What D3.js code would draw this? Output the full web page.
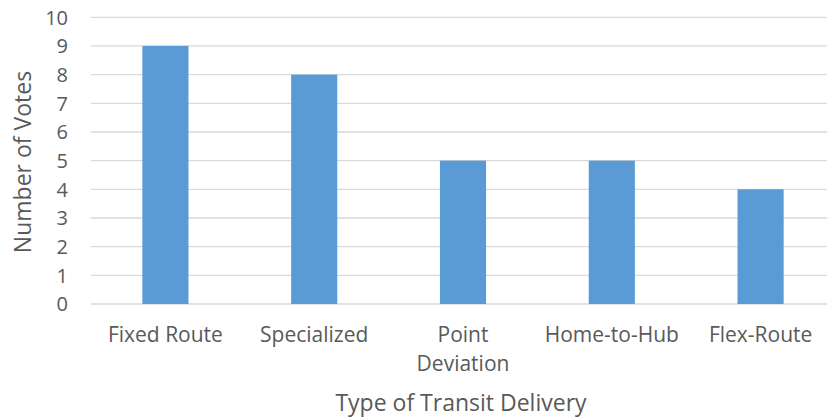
<!DOCTYPE html>
<html>
<head>
<meta charset="utf-8">
<script src="https://cdn.jsdelivr.net/npm/d3@7"></script>
<style>
  body { margin: 0; background: #fff; }
  text { font-family: "Open Sans", sans-serif; fill: #595959; }
</style>
</head>
<body>
<div id="chart"></div>
<script>
// 数据
const categories = ["Fixed Route", "Specialized", "Point Deviation", "Home-to-Hub", "Flex-Route"];
const votes = [9, 8, 5, 5, 4];
const yTicks = [0, 1, 2, 3, 4, 5, 6, 7, 8, 9, 10];

const W = 827, H = 418;
const svg = d3.select("#chart").append("svg")
    .attr("width", W)
    .attr("height", H);

// 比例尺
const x = d3.scaleBand()
    .domain(categories)
    .range([91, 835])
    .paddingInner(0.69)
    .paddingOuter(0.345);

const y = d3.scaleLinear()
    .domain([0, 10])
    .range([304, 17.3]);

// 网格线
svg.append("g")
    .selectAll("line")
    .data(yTicks)
    .join("line")
    .attr("x1", 91)
    .attr("x2", W)
    .attr("y1", d => y(d))
    .attr("y2", d => y(d))
    .attr("stroke", "#d9d9d9")
    .attr("stroke-width", 1.3);

// Y轴刻度
svg.append("g")
    .selectAll("text")
    .data(yTicks)
    .join("text")
    .attr("x", 68)
    .attr("y", d => y(d))
    .attr("dy", "0.36em")
    .attr("text-anchor", "end")
    .style("font-size", "20px")
    .text(d => d);

// 柱子
svg.append("g")
    .selectAll("rect")
    .data(votes)
    .join("rect")
    .attr("x", (d, i) => x(categories[i]))
    .attr("y", d => y(d))
    .attr("width", x.bandwidth())
    .attr("height", d => y(0) - y(d))
    .attr("fill", "#5b9bd5");

// X轴标签（长标签换行）
const xLabels = svg.append("g")
    .selectAll("text")
    .data(categories)
    .join("text")
    .attr("text-anchor", "middle")
    .style("font-size", "21px")
    .attr("transform", d => `translate(${x(d) + x.bandwidth() / 2},342)`);

xLabels.each(function(d) {
    const t = d3.select(this);
    const lines = d === "Point Deviation" ? ["Point", "Deviation"] : [d];
    lines.forEach((l, i) => {
        t.append("tspan").attr("x", 0).attr("dy", i === 0 ? 0 : 29).text(l);
    });
});

// 轴标题
svg.append("text")
    .attr("x", 461)
    .attr("y", 411)
    .attr("text-anchor", "middle")
    .style("font-size", "23px")
    .text("Type of Transit Delivery");

svg.append("text")
    .attr("transform", "translate(31,162) rotate(-90)")
    .attr("text-anchor", "middle")
    .style("font-size", "23px")
    .text("Number of Votes");
</script>
</body>
</html>
